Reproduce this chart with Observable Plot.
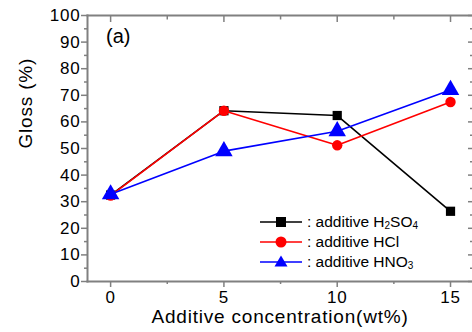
<!DOCTYPE html>
<html><head><meta charset="utf-8">
<script src="https://cdn.jsdelivr.net/npm/d3@7"></script>
<script src="https://cdn.jsdelivr.net/npm/@observablehq/plot@0.6"></script>
<style>
body{margin:0;background:#fff;font-family:"Liberation Sans",Arial,sans-serif;}
#wrap{position:relative;width:472px;height:332px;overflow:hidden;}
#legend{position:absolute;left:258px;top:212px;font-size:15.5px;line-height:20px;color:#000;}
#legend .row{display:flex;align-items:center;height:20px;}
#legend svg{margin-right:3px;}
#legend sub{font-size:10px;vertical-align:-2px;line-height:0;}
#lbl{position:absolute;left:106px;top:25px;font-size:20px;}
svg text{letter-spacing:0.8px;}
</style></head>
<body><div id="wrap"><div id="chart"></div><div id="lbl">(a)</div><div id="legend"></div></div>
<script>
const concentrations = [0, 5, 10, 15];
const h2so4 = [32.5, 64.2, 62.4, 26.4];
const hcl = [32.3, 64.2, 51.2, 67.5];
const hno3 = [32.8, 49.0, 56.5, 72.0];
const seriesNames = ["H2SO4", "HCl", "HNO3"];
const seriesColors = ["#000000", "#ff0000", "#0000ff"];
const seriesSymbols = ["square", "circle", "triangle"];
const xTicks = [0, 5, 10, 15];
const yTicks = [0, 10, 20, 30, 40, 50, 60, 70, 80, 90, 100];

const values = [h2so4, hcl, hno3];
const data = [];
values.forEach((vals, si) => vals.forEach((v, i) => data.push({s: seriesNames[si], x: concentrations[i], y: v})));

const gray = "#808080";
const none = () => "";
const minorY = d3.range(5, 100, 10);
const minorX = [2.5, 7.5, 12.5];
const ax = {stroke: gray, strokeWidth: 1.5, label: null};
const marks = [
  Plot.frame({anchor: "left", stroke: gray, strokeWidth: 2}),
  Plot.frame({anchor: "top", stroke: gray, strokeWidth: 2}),
  Plot.frame({anchor: "bottom", stroke: gray, strokeWidth: 2}),
  Plot.axisY({...ax, ticks: minorY, tickSize: 3, tickFormat: none}),
  Plot.axisY({...ax, ticks: yTicks, tickSize: 6, tickPadding: 1, fontSize: 17, fill: "#000"}),
  Plot.axisY({...ax, anchor: "right", ticks: minorY, tickSize: -3, tickFormat: none}),
  Plot.axisY({...ax, anchor: "right", ticks: yTicks, tickSize: -5, tickFormat: none}),
  Plot.axisX({...ax, ticks: minorX, tickSize: 3, tickFormat: none}),
  Plot.axisX({...ax, ticks: xTicks, tickSize: 6, tickPadding: 3, fontSize: 17, fill: "#000"}),
  Plot.axisX({...ax, anchor: "top", ticks: minorX, tickSize: -3.5, tickFormat: none}),
  Plot.axisX({...ax, anchor: "top", ticks: xTicks, tickSize: -6, tickFormat: none})
];
seriesNames.forEach((name, i) => {
  const d = data.filter(r => r.s === name);
  marks.push(Plot.line(d, {x: "x", y: "y", stroke: seriesColors[i], strokeWidth: 1.6}));
  marks.push(Plot.dot(d, {x: "x", y: "y", symbol: () => seriesSymbols[i], fill: seriesColors[i], r: i === 2 ? 6.5 : 5.2}));
});
marks.push(Plot.text(["Gloss (%)"], {frameAnchor: "left", dx: -62, rotate: -90, fontSize: 19, fill: "#000"}));
marks.push(Plot.text(["Additive concentration(wt%)"], {frameAnchor: "bottom", dy: 41, fontSize: 19, fill: "#000"}));

const chart = Plot.plot({
  width: 472, height: 332,
  marginLeft: 87, marginRight: 0, marginTop: 15, marginBottom: 51,
  style: {fontFamily: '"Liberation Sans", Arial, sans-serif', background: "#fff", overflow: "visible"},
  x: {domain: [-1.02, 15.97]},
  y: {domain: [0, 100]},
  marks
});
document.getElementById("chart").append(chart);

const legendLabels = ["H<sub>2</sub>SO<sub>4</sub>", "HCl", "HNO<sub>3</sub>"];
const lg = document.getElementById("legend");
seriesNames.forEach((n, i) => {
  const c = seriesColors[i];
  let m;
  if (i === 0) m = `<rect x="18" y="5" width="10" height="10" fill="${c}"/>`;
  else if (i === 1) m = `<circle cx="23" cy="10" r="5.5" fill="${c}"/>`;
  else m = `<path d="M23,3.5 L29.5,14.5 L16.5,14.5 Z" fill="${c}"/>`;
  lg.insertAdjacentHTML("beforeend",
    `<div class="row"><svg width="46" height="20"><line x1="2" x2="44" y1="10" y2="10" stroke="${c}" stroke-width="1.6"/>${m}</svg><span>: additive ${legendLabels[i]}</span></div>`);
});
</script></body></html>
